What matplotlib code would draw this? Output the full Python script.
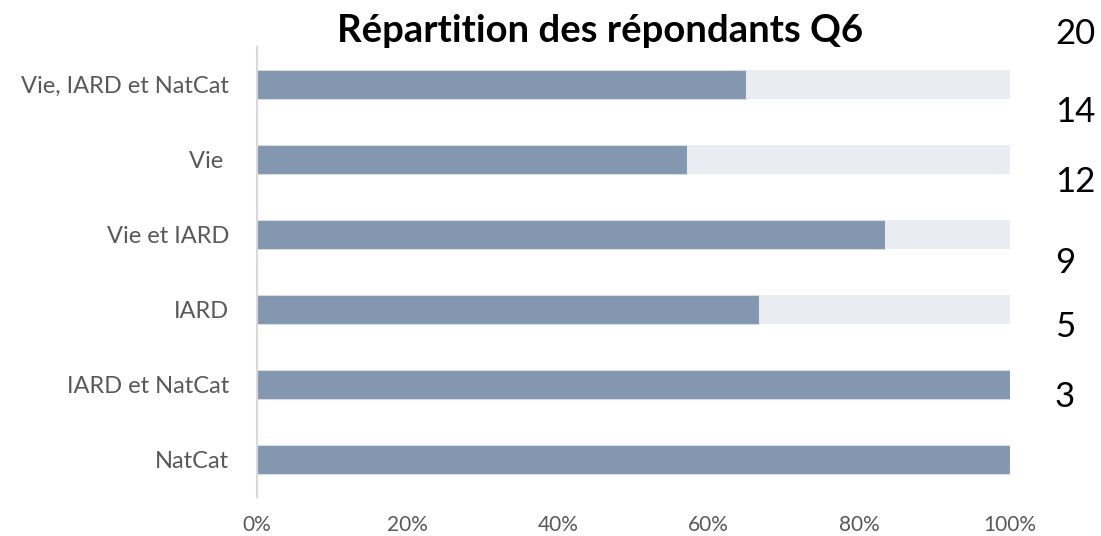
import matplotlib
matplotlib.use('Agg')
from matplotlib import pyplot as plt
import numpy as np

plt.rcParams['font.family'] = ['Lato', 'DejaVu Sans']

categories = ['Vie, IARD et NatCat', 'Vie ', 'Vie et IARD', 'IARD', 'IARD et NatCat', 'NatCat']
totals = [20, 14, 12, 9, 5, 3]
positifs = [13, 8, 10, 6, 5, 3]

pct = np.array(positifs) / np.array(totals)
rest = 1 - pct
y = np.arange(len(categories))

W, H = 1101, 536
fig = plt.figure(figsize=(W / 100, H / 100), dpi=100)
ax = fig.add_axes([257 / W, 1 - 497 / H, (1010 - 257) / W, 450 / H])

ax.barh(y, pct, height=0.39, color='#8497B0', edgecolor='#D6DCE5', linewidth=0.8)
ax.barh(y, rest, left=pct, height=0.39, color='#E9ECF1', edgecolor='none')

ax.set_ylim(len(categories) - 0.5, -0.5)
ax.set_xlim(0, 1)
ax.set_yticks(y)
ax.set_yticklabels(categories, fontsize=17, color='#595959')
ax.set_xticks(np.arange(0, 1.01, 0.2))
ax.set_xticklabels([f'{int(round(v * 100))}%' for v in np.arange(0, 1.01, 0.2)], fontsize=15, color='#595959')
ax.tick_params(axis='both', length=0)
ax.tick_params(axis='y', pad=20)
ax.tick_params(axis='x', pad=13)
for s in ['top', 'right', 'bottom']:
    ax.spines[s].set_visible(False)
ax.spines['left'].set_color('#D9D9D9')
ax.spines['left'].set_linewidth(1.5)

fig.text(600 / W, 1 - 31 / H, 'Répartition des répondants Q6', ha='center', va='center',
         fontsize=27.5, fontweight='bold', color='black')

# totals, placed down the right side
ys_px = [34, 112, 182, 263, 327, 397]
for n, yp in zip(totals, ys_px):
    fig.text(1055 / W, 1 - yp / H, str(n), ha='left', va='center', fontsize=25, color='black')

fig.savefig('out.png', dpi=100)
